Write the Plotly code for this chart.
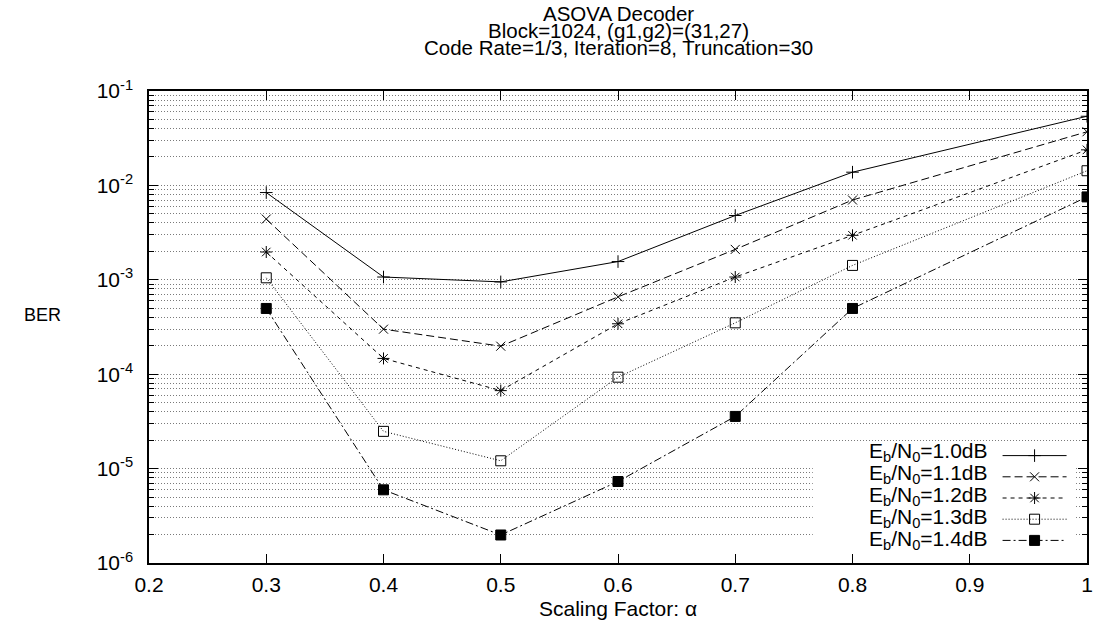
import plotly.graph_objects as go

# ---- data ----
alpha = [0.3, 0.4, 0.5, 0.6, 0.7, 0.8, 1.0]
ber_10 = [8.4e-3, 1.07e-3, 9.5e-4, 1.56e-3, 4.8e-3, 1.38e-2, 5.4e-2]
ber_11 = [4.4e-3, 3.0e-4, 1.98e-4, 6.6e-4, 2.1e-3, 7.0e-3, 3.7e-2]
ber_12 = [1.97e-3, 1.47e-4, 6.7e-5, 3.42e-4, 1.07e-3, 2.96e-3, 2.38e-2]
ber_13 = [1.05e-3, 2.48e-5, 1.21e-5, 9.3e-5, 3.5e-4, 1.42e-3, 1.43e-2]
ber_14 = [4.97e-4, 5.96e-6, 1.98e-6, 7.3e-6, 3.57e-5, 4.97e-4, 7.55e-3]

series_labels = ["E<sub>b</sub>/N<sub>0</sub>=1.0dB", "E<sub>b</sub>/N<sub>0</sub>=1.1dB",
                 "E<sub>b</sub>/N<sub>0</sub>=1.2dB", "E<sub>b</sub>/N<sub>0</sub>=1.3dB",
                 "E<sub>b</sub>/N<sub>0</sub>=1.4dB"]

x_tickvals = [0.2, 0.3, 0.4, 0.5, 0.6, 0.7, 0.8, 0.9, 1.0]
x_ticktext = ["0.2", "0.3", "0.4", "0.5", "0.6", "0.7", "0.8", "0.9", "1"]
y_tickvals = [1e-6, 1e-5, 1e-4, 1e-3, 1e-2, 1e-1]
y_ticktext = ["10<sup>-6</sup>", "10<sup>-5</sup>", "10<sup>-4</sup>",
              "10<sup>-3</sup>", "10<sup>-2</sup>", "10<sup>-1</sup>"]

title_lines = ["ASOVA Decoder", "Block=1024, (g1,g2)=(31,27)",
               "Code Rate=1/3, Iteration=8, Truncation=30"]
x_title = "Scaling Factor: α"
y_title = "BER"

# ---- styling ----
FONT = "Liberation Sans"
styles = [
    dict(dash="solid", symbol="cross-thin-open", size=9),
    dict(dash="8px,4px", symbol="x-thin-open", size=9),
    dict(dash="4px,4px", symbol="asterisk-open", size=10),
    dict(dash="1px,2px", symbol="square-open", size=10),
    dict(dash="8px,3px,2px,3px", symbol="square", size=10),
]
all_series = [ber_10, ber_11, ber_12, ber_13, ber_14]

fig = go.Figure()
for ys, st, lab in zip(all_series, styles, series_labels):
    fig.add_trace(go.Scatter(
        x=alpha, y=ys, mode="lines+markers", name=" ",
        hovertext=lab.replace("<sub>", "").replace("</sub>", ""),
        line=dict(color="black", width=1, dash=st["dash"]),
        marker=dict(symbol=st["symbol"], size=st["size"], color="black",
                    line=dict(color="black", width=1)),
        showlegend=True,
    ))

minor_vals = [m * 10.0 ** e for e in range(-6, -1) for m in range(2, 10)]

grid_style = dict(gridcolor="#7a7a7a", gridwidth=1, griddash="1px,2px")

fig.update_xaxes(
    range=[0.2, 1.0], tickmode="array", tickvals=x_tickvals, ticktext=x_ticktext,
    ticks="inside", ticklen=9, tickwidth=1, tickcolor="black",
    showline=True, linecolor="black", linewidth=1.5, mirror="ticks",
    showgrid=False, zeroline=False,
    tickfont=dict(family=FONT, size=21, color="black"),
    ticklabelstandoff=2,
)
fig.update_yaxes(
    type="log", range=[-6, -1], tickmode="array", tickvals=y_tickvals, ticktext=y_ticktext,
    ticks="inside", ticklen=9, tickwidth=1, tickcolor="black",
    showline=True, linecolor="black", linewidth=1.5, mirror="ticks",
    showgrid=True, zeroline=False, **grid_style,
    minor=dict(tickmode="array", tickvals=minor_vals, ticks="inside", ticklen=5,
               tickcolor="black", showgrid=True, **grid_style),
    tickfont=dict(family=FONT, size=21, color="black"),
    ticklabelstandoff=10,
)

W, H = 1102, 632
L, R, T, B = 149, 9, 91, 69
pw, ph = W - L - R, H - T - B

def px(xp):
    return (xp - L) / pw

def py(yp):
    return (H - B - yp) / ph

annotations = []
for txt, yp in zip(title_lines, [13, 30, 47]):
    annotations.append(dict(text=txt, x=0.5, y=py(yp), xref="paper", yref="paper",
                            xanchor="center", yanchor="middle", showarrow=False,
                            font=dict(family=FONT, size=20.5, color="black")))
annotations.append(dict(text=y_title, x=px(42), y=py(315), xref="paper", yref="paper",
                        xanchor="center", yanchor="middle", showarrow=False,
                        font=dict(family=FONT, size=18, color="black")))
annotations.append(dict(text=x_title, x=0.5, y=py(608), xref="paper", yref="paper",
                        xanchor="center", yanchor="middle", showarrow=False,
                        font=dict(family=FONT, size=21, color="black")))
for txt, yp in zip(series_labels, [452, 474, 496, 517.5, 539.5]):
    annotations.append(dict(text=txt, x=px(995), y=py(yp), xref="paper", yref="paper",
                            xanchor="right", yanchor="middle", showarrow=False,
                            font=dict(family=FONT, size=21, color="black")))

fig.update_layout(
    width=W, height=H,
    margin=dict(l=L, r=R, t=T, b=B),
    paper_bgcolor="white", plot_bgcolor="white",
    font=dict(family=FONT, color="black"),
    annotations=annotations,
    shapes=[dict(type="rect", xref="paper", yref="paper",
                 x0=px(817), x1=px(1082), y0=py(552), y1=py(444),
                 fillcolor="white", line=dict(width=0), layer="above")],
    legend=dict(x=px(1003), y=py(440), xanchor="left", yanchor="top",
                bgcolor="rgba(0,0,0,0)", borderwidth=0,
                font=dict(family=FONT, size=14), itemwidth=64,
                tracegroupgap=0),
)

fig.write_html("out.html")
